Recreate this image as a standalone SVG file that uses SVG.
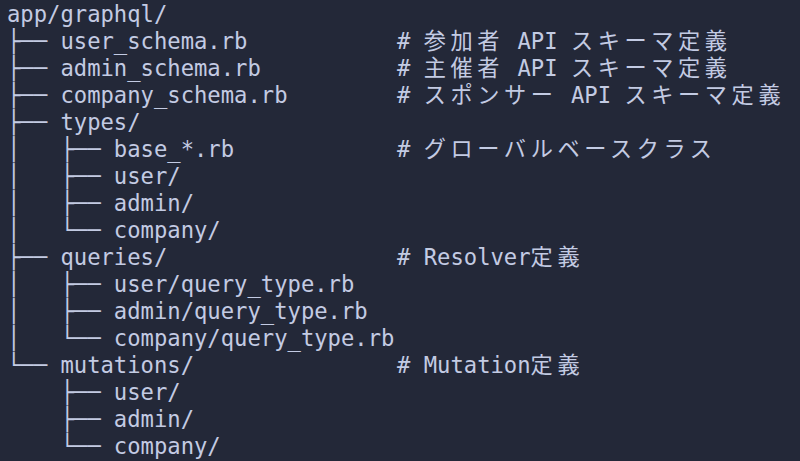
<svg xmlns="http://www.w3.org/2000/svg" width="800" height="461" viewBox="0 0 800 461">
<style>
text{font-family:"DejaVu Sans Mono","Noto Sans CJK JP",monospace;font-size:22.2px;fill:#c3cbe3;white-space:pre}
.j{letter-spacing:4.6px}
</style>
<rect width="800" height="461" fill="#232838"/>
<g id="tree">
<text x="7" y="22">app/graphql/</text>
<text x="7" y="49">├── user_schema.rb</text>
<text x="7" y="76">├── admin_schema.rb</text>
<text x="7" y="103">├── company_schema.rb</text>
<text x="7" y="130">├── types/</text>
<text x="7" y="157">│   ├── base_*.rb</text>
<text x="7" y="184">│   ├── user/</text>
<text x="7" y="211">│   ├── admin/</text>
<text x="7" y="238">│   └── company/</text>
<text x="7" y="265">├── queries/</text>
<text x="7" y="292">│   ├── user/query_type.rb</text>
<text x="7" y="319">│   ├── admin/query_type.rb</text>
<text x="7" y="346">│   └── company/query_type.rb</text>
<text x="7" y="373">└── mutations/</text>
<text x="7" y="400">    ├── user/</text>
<text x="7" y="427">    ├── admin/</text>
<text x="7" y="454">    └── company/</text>
</g>
<g id="comments">
<text x="397" y="49"># <tspan class="j">参加者</tspan> API <tspan class="j">スキーマ定義</tspan></text>
<text x="397" y="76"># <tspan class="j">主催者</tspan> API <tspan class="j">スキーマ定義</tspan></text>
<text x="397" y="103"># <tspan class="j">スポンサー</tspan> API <tspan class="j">スキーマ定義</tspan></text>
<text x="397" y="157"># <tspan class="j">グローバルベースクラス</tspan></text>
<text x="397" y="265"># Resolver<tspan class="j">定義</tspan></text>
<text x="397" y="373"># Mutation<tspan class="j">定義</tspan></text>
</g>
</svg>
